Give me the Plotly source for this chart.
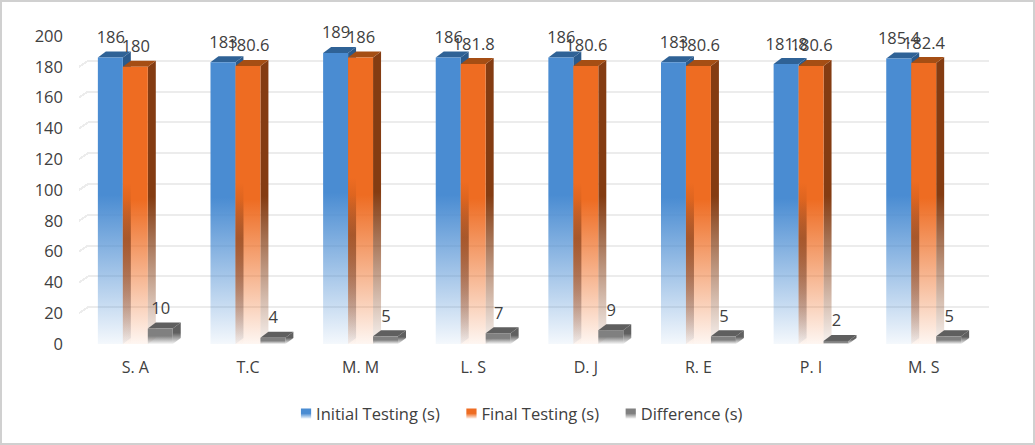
import plotly.graph_objects as go

categories = ["S. A", "T.C", "M. M", "L. S", "D. J", "R. E", "P. I", "M. S"]
initial_testing = [186, 183, 189, 186, 186, 183, 181.8, 185.4]
final_testing = [180, 180.6, 186, 181.8, 180.6, 180.6, 180.6, 182.4]
difference = [10, 4, 5, 7, 9, 5, 2, 5]
series_names = ["Initial Testing (s)", "Final Testing (s)", "Difference (s)"]
y_ticks = list(range(0, 201, 20))

FONT = "Open Sans"
TEXT = "#404040"
FRONT = ["#4A8CD2", "#EE6C22", "#808080"]

fig = go.Figure()
for name, vals, col in zip(series_names, [initial_testing, final_testing, difference], FRONT):
    fig.add_trace(go.Bar(
        name=name, x=categories, y=vals, text=[str(v) for v in vals],
        textposition="outside", textangle=0, cliponaxis=False, constraintext="none",
        textfont=dict(family=FONT, size=16.5, color=TEXT),
        marker=dict(color=col, line=dict(width=0)),
    ))

fig.update_layout(
    width=1035, height=445, autosize=False,
    barmode="group", bargap=0.335, bargroupgap=0,
    paper_bgcolor="white", plot_bgcolor="white",
    margin=dict(l=79, r=55, t=36, b=101),
    font=dict(family=FONT, color=TEXT),
    xaxis=dict(showgrid=False, zeroline=False, showline=False, ticks="", ticklabelstandoff=12,
               tickfont=dict(family=FONT, size=16, color=TEXT)),
    yaxis=dict(range=[0, 200], tickvals=y_ticks, showgrid=True, gridcolor="#ECECEC", gridwidth=1.5,
               zeroline=False, showline=False, ticks="", ticklabelstandoff=15,
               tickfont=dict(family=FONT, size=16.5, color=TEXT)),
    legend=dict(orientation="h", x=0.4845, xanchor="center", y=-0.227, yanchor="middle",
                font=dict(family=FONT, size=16.5, color=TEXT), itemclick=False, itemdoubleclick=False),
    showlegend=True,
)

post = r"""
(function(){
  document.body.style.margin='0';document.body.style.overflow='hidden';
  var gd=document.getElementById('{plot_id}');
  var NS='http://www.w3.org/2000/svg';
  var svg=gd.querySelector('.main-svg');
  var D=8,H=6,GX=9,GY=-6;
  var defs=svg.querySelector('defs')||svg.insertBefore(document.createElementNS(NS,'defs'),svg.firstChild);
  function grad(id,color,stops){
    var g=document.createElementNS(NS,'linearGradient');
    g.setAttribute('id',id);g.setAttribute('x1','0');g.setAttribute('y1','0');g.setAttribute('x2','0');g.setAttribute('y2','1');
    stops.forEach(function(s){var e=document.createElementNS(NS,'stop');
      e.setAttribute('offset',s[0]);e.setAttribute('stop-color',color);e.setAttribute('stop-opacity',s[1]);g.appendChild(e);});
    defs.appendChild(g);
  }
  var fade=[[0,1],[0.48,1],[1,0.06]];
  var front=['#4A8CD2','#EE6C22','#808080'], side=['#2A5A8C','#843C12','#606060'], top=['#2F6296','#A54E14','#5F5F5F'];
  front.forEach(function(c,i){grad('gf'+i,c,fade);grad('gs'+i,side[i],fade);});
  grad('gstrip','#843C12',[[0,0],[0.42,0],[0.62,0.5],[1,0]]);
  function poly(pts,fill){var p=document.createElementNS(NS,'polygon');
    p.setAttribute('points',pts.map(function(a){return a.join(',');}).join(' '));p.style.fill=fill;return p;}
  gd.querySelectorAll('.barlayer .trace.bars').forEach(function(tr,i){
    tr.querySelectorAll('g.point').forEach(function(pt){
      var path=pt.querySelector('path');var b=path.getBBox();
      var x0=b.x,x1=b.x+b.width,y0=b.y,y1=b.y+b.height;
      path.style.fill='url(#gf'+i+')';
      pt.insertBefore(poly([[x1,y1],[x1+D,y1-H],[x1+D,y0-H],[x1,y0]],'url(#gs'+i+')'),path);
      pt.insertBefore(poly([[x0,y0],[x0+D,y0-H],[x1+D,y0-H],[x1,y0]],top[i]),path);
      if(i===1){var s=poly([[x0,y0],[x0+D,y0],[x0+D,y1],[x0,y1]],'url(#gstrip)');path.parentNode.insertBefore(s,path.nextSibling);}
      var t=pt.querySelector('text');
      if(t){t.setAttribute('transform','translate(0.5,-6.5) '+(t.getAttribute('transform')||''));}
    });
  });
  gd.querySelectorAll('.gridlayer path').forEach(function(p){
    var b=p.getBBox(),tf=p.getAttribute('transform')||'';
    var stub=p.cloneNode();stub.setAttribute('d','M'+b.x+','+b.y+'l'+GX+','+GY);
    p.parentNode.appendChild(stub);
    p.setAttribute('transform','translate('+GX+','+GY+') '+tf);
  });
  gd.querySelectorAll('.legend .traces').forEach(function(tr,i){
    var sw=tr.querySelector('.legendpoints');
    sw.setAttribute('transform','translate(10,0)');
    var p=sw.querySelector('path');
    p.style.fill='url(#gf'+i+')';p.setAttribute('transform',(p.getAttribute('transform')||'')+' scale(0.85)');
    tr.setAttribute('transform',tr.getAttribute('transform')+' translate('+(-3.5*i)+',0)');
  });
  var r=document.createElementNS(NS,'rect');
  r.setAttribute('x',1);r.setAttribute('y',1);r.setAttribute('width',1033);r.setAttribute('height',443);
  r.style.fill='none';r.style.stroke='#D0D0D0';r.style.strokeWidth='2px';
  svg.appendChild(r);
})();
"""
fig.write_html("out.html", post_script=post, config={"displayModeBar": False, "responsive": False})
